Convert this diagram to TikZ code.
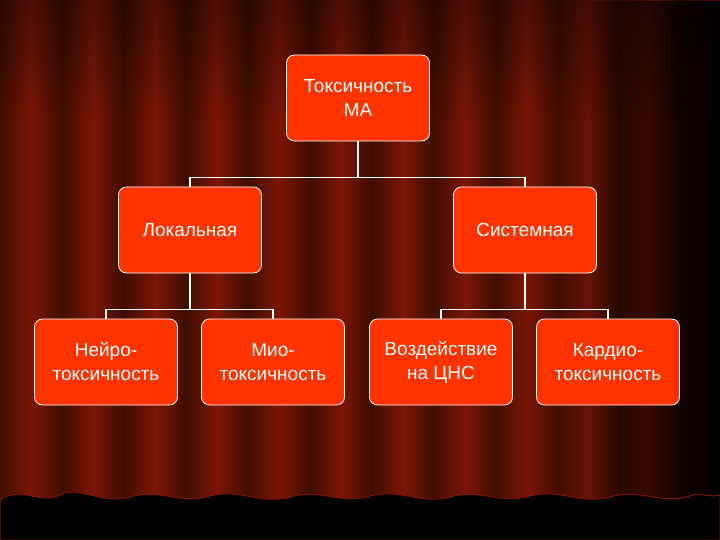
\documentclass[tikz,border=0pt]{standalone}
\usepackage{fontspec}
\setmainfont{Liberation Sans}
\usetikzlibrary{fadings}
\definecolor{boxred}{HTML}{FF3300}
\definecolor{cdark}{HTML}{3E0E00}
\definecolor{clight}{HTML}{7C1608}
\tikzset{
  box/.style={draw=white, line width=0.8pt, fill=boxred, rounded corners=8pt,
    minimum width=143pt, minimum height=86pt, text=white, align=center,
    font=\fontsize{19}{24}\selectfont, inner sep=2pt},
  conn/.style={draw=white, line width=1.5pt}
}
\begin{document}
\begin{tikzpicture}[x=1pt,y=-1pt]
\useasboundingbox (0,0) rectangle (720,540);
\fill[cdark] (0,0) rectangle (720,540);
\foreach \x in {0,62,124,186,248,310,372,434,496,558,620,682} {
  \shade[left color=cdark, right color=cdark, middle color=clight] (\x,0) rectangle (\x+62,540);
}
\fill[black, path fading=west] (560,0) rectangle (720,540);
\fill[black, opacity=0.35, path fading=south] (0,0) rectangle (720,120);
\fill[black, draw=clight, line width=1pt] (0,540) -- (0,500)
  .. controls (20,485) and (40,505) .. (60,495)
  .. controls (80,485) and (100,505) .. (130,497)
  .. controls (160,488) and (180,505) .. (210,496)
  .. controls (240,488) and (260,505) .. (290,497)
  .. controls (320,488) and (340,505) .. (370,496)
  .. controls (400,488) and (420,505) .. (450,497)
  .. controls (480,488) and (500,505) .. (530,496)
  .. controls (560,488) and (580,505) .. (610,497)
  .. controls (640,488) and (660,505) .. (690,496)
  .. controls (700,492) and (710,498) .. (720,495) -- (720,540) -- cycle;

\node[box] (top) at (358,98) {Токсичность\\МА};
\node[box] (loc) at (190,230) {Локальная};
\node[box] (sys) at (525,230) {Системная};
\node[box] (n1) at (106,362) {Нейро-\\токсичность};
\node[box] (n2) at (273,362) {Мио-\\токсичность};
\node[box] (n3) at (441,362) {Воздействие\\на ЦНС};
\node[box] (n4) at (608,362) {Кардио-\\токсичность};

\draw[conn] (top.south) -- ++(0,36) -| (loc.north);
\draw[conn] (top.south) -- ++(0,36) -| (sys.north);
\draw[conn] (loc.south) -- ++(0,36) -| (n1.north);
\draw[conn] (loc.south) -- ++(0,36) -| (n2.north);
\draw[conn] (sys.south) -- ++(0,36) -| (n3.north);
\draw[conn] (sys.south) -- ++(0,36) -| (n4.north);
\end{tikzpicture}
\end{document}
